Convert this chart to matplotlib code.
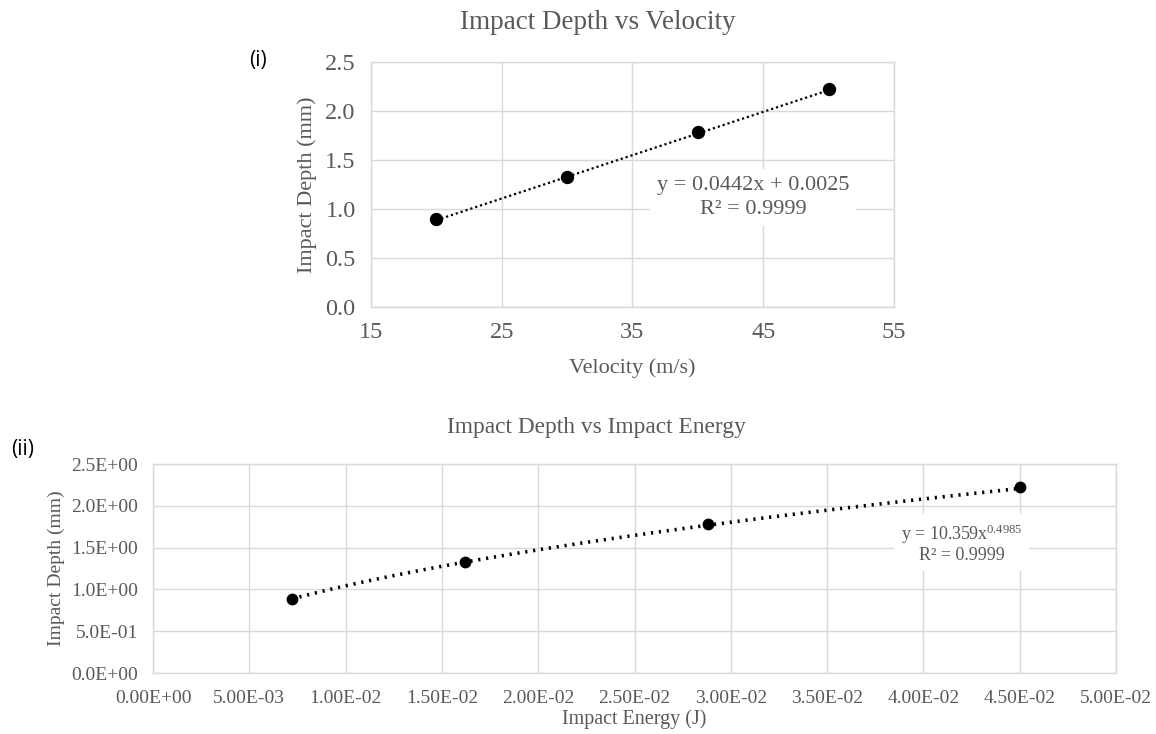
"""Impact depth vs velocity and vs impact energy, with trendlines."""

import numpy as np
import matplotlib.pyplot as plt
from matplotlib.ticker import FuncFormatter, MultipleLocator

velocity = [20, 30, 40, 50]
depth_v = [0.90, 1.33, 1.79, 2.22]

energy = [0.0072, 0.0162, 0.0288, 0.0450]
depth_e = [0.89, 1.33, 1.78, 2.22]

vel_ticks = [15, 25, 35, 45, 55]

# trendline coefficients shown on the chart
lin_slope, lin_icpt = 0.0442, 0.0025
pow_coef, pow_exp = 10.359, 0.4985

TXT = "#595959"
GRID = "#d9d9d9"
SERIF = "Liberation Serif"

plt.rcParams["font.family"] = SERIF
plt.rcParams["mathtext.fontset"] = "custom"
plt.rcParams["mathtext.rm"] = SERIF
plt.rcParams["mathtext.it"] = SERIF
plt.rcParams["mathtext.default"] = "rm"
fig = plt.figure(figsize=(11.56, 7.34), dpi=100)


def style_axes(ax, size):
    ax.grid(True, color=GRID, linewidth=1.0)
    ax.set_axisbelow(True)
    for sp in ax.spines.values():
        sp.set_color(GRID)
        sp.set_linewidth(1.0)
    ax.tick_params(length=0, colors=TXT, labelsize=size, pad=8)


# (i) depth vs velocity
ax1 = fig.add_axes([0.3209, 0.5817, 0.4524, 0.3338])
style_axes(ax1, 17.5)
ax1.tick_params(axis="x", pad=11)
ax1.tick_params(axis="y", pad=11)
xs = np.linspace(min(velocity), max(velocity), 50)
ax1.plot(xs, lin_slope * xs + lin_icpt, color="black", linestyle=(0, (1, 1.3)), linewidth=1.6)
ax1.plot(velocity, depth_v, "o", color="black", markersize=8.6)
ax1.set_xlim(15, 55)
ax1.set_ylim(0, 2.5)
ax1.set_xticks(vel_ticks)
ax1.yaxis.set_major_locator(MultipleLocator(0.5))
ax1.yaxis.set_major_formatter(FuncFormatter(lambda v, p: f"{v:.1f}"))
ax1.set_xlabel("Velocity (m/s)", color=TXT, fontsize=16, labelpad=11)
ax1.set_ylabel("Impact Depth (mm)", color=TXT, fontsize=16, labelpad=6)
ax1.text(0.731, 0.447, "y = 0.0442x + 0.0025\nR² = 0.9999", transform=ax1.transAxes,
         ha="center", va="center", fontsize=16, color=TXT, linespacing=1.35,
         bbox=dict(facecolor="white", edgecolor="none", pad=5))
fig.text(0.517, 0.97, "Impact Depth vs Velocity", ha="center", va="center",
         fontsize=19.5, color=TXT)
fig.text(0.223, 0.918, "(i)", ha="center", va="center", fontsize=15,
         family="Open Sans", color="black")

# (ii) depth vs impact energy
ax2 = fig.add_axes([0.1324, 0.0831, 0.833, 0.2847])
style_axes(ax2, 14)
ax2.tick_params(axis="y", pad=11)
ax2.tick_params(axis="x", pad=12)
es = np.linspace(min(energy), max(energy), 100)
ax2.plot(es, pow_coef * es ** pow_exp, color="black", linestyle=(0, (0.6, 1.6)), linewidth=2.6)
ax2.plot(energy, depth_e, "o", color="black", markersize=7.5)
ax2.set_xlim(0, 0.05)
ax2.set_ylim(0, 2.5)
ax2.xaxis.set_major_locator(MultipleLocator(0.005))
ax2.yaxis.set_major_locator(MultipleLocator(0.5))
ax2.xaxis.set_major_formatter(FuncFormatter(lambda v, p: f"{v:.2E}"))
ax2.yaxis.set_major_formatter(FuncFormatter(lambda v, p: f"{v:.1E}"))
ax2.set_xlabel("Impact Energy (J)", color=TXT, fontsize=14.5, labelpad=2)
ax2.set_ylabel("Impact Depth (mm)", color=TXT, fontsize=14, labelpad=4)
ax2.text(0.840, 0.62, "y = 10.359x$^{0.4985}$\nR² = 0.9999", transform=ax2.transAxes,
         ha="center", va="center", fontsize=13, color=TXT, linespacing=1.05,
         bbox=dict(facecolor="white", edgecolor="none", pad=5))
fig.text(0.516, 0.417, "Impact Depth vs Impact Energy", ha="center", va="center",
         fontsize=16.8, color=TXT)
fig.text(0.02, 0.387, "(ii)", ha="center", va="center", fontsize=15,
         family="Open Sans", color="black")

fig.savefig("out.png")
